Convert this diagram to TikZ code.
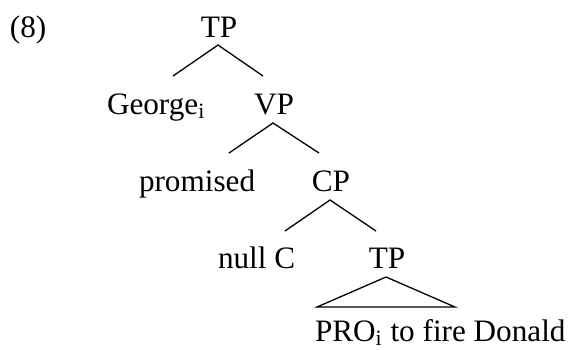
\documentclass[tikz,border=0pt]{standalone}
\usepackage{fontspec}
\setmainfont{Liberation Serif}
\usetikzlibrary{calc}
\tikzset{
  lbl/.style={inner sep=0pt, outer sep=0pt, font=\fontsize{15.6}{18}\selectfont},
  branch/.style={line width=0.65pt, line join=miter}
}
\begin{document}
\begin{tikzpicture}[x=0.5pt,y=-0.5pt]
\useasboundingbox (0,0) rectangle (571,349);
\node[lbl, anchor=base west] (ex) at (10,37) {(8)};
\node[lbl, anchor=base] (tp1) at (219,37) {TP};
\node[lbl, anchor=base west] (george) at (107,114) {George\textsubscript{i}};
\node[lbl, anchor=base] (vp) at (274,114) {VP};
\node[lbl, anchor=base west] (promised) at (139,191) {promised};
\node[lbl, anchor=base] (cp) at (331,191) {CP};
\node[lbl, anchor=base west] (nullc) at (218,268) {null C};
\node[lbl, anchor=base] (tp2) at (387,268) {TP};
\node[lbl, anchor=base west] (pro) at (315,341) {PRO\textsubscript{i} to fire Donald};
% TP -> George, VP
\draw[branch] ($(tp1.base)+(-46,39)$) -- ($(tp1.base)+(-1,8)$) -- ($(tp1.base)+(44,39)$);
% VP -> promised, CP
\draw[branch] ($(vp.base)+(-45,39)$) -- ($(vp.base)+(-1,9)$) -- ($(vp.base)+(45,39)$);
% CP -> null C, TP
\draw[branch] ($(cp.base)+(-46,40)$) -- ($(cp.base)+(-1,9)$) -- ($(cp.base)+(45,40)$);
% TP triangle
\draw[branch] ($(tp2.base)+(-70,39)$) -- ($(tp2.base)+(-1,9)$) -- ($(tp2.base)+(68,39)$) -- cycle;
\end{tikzpicture}
\end{document}
